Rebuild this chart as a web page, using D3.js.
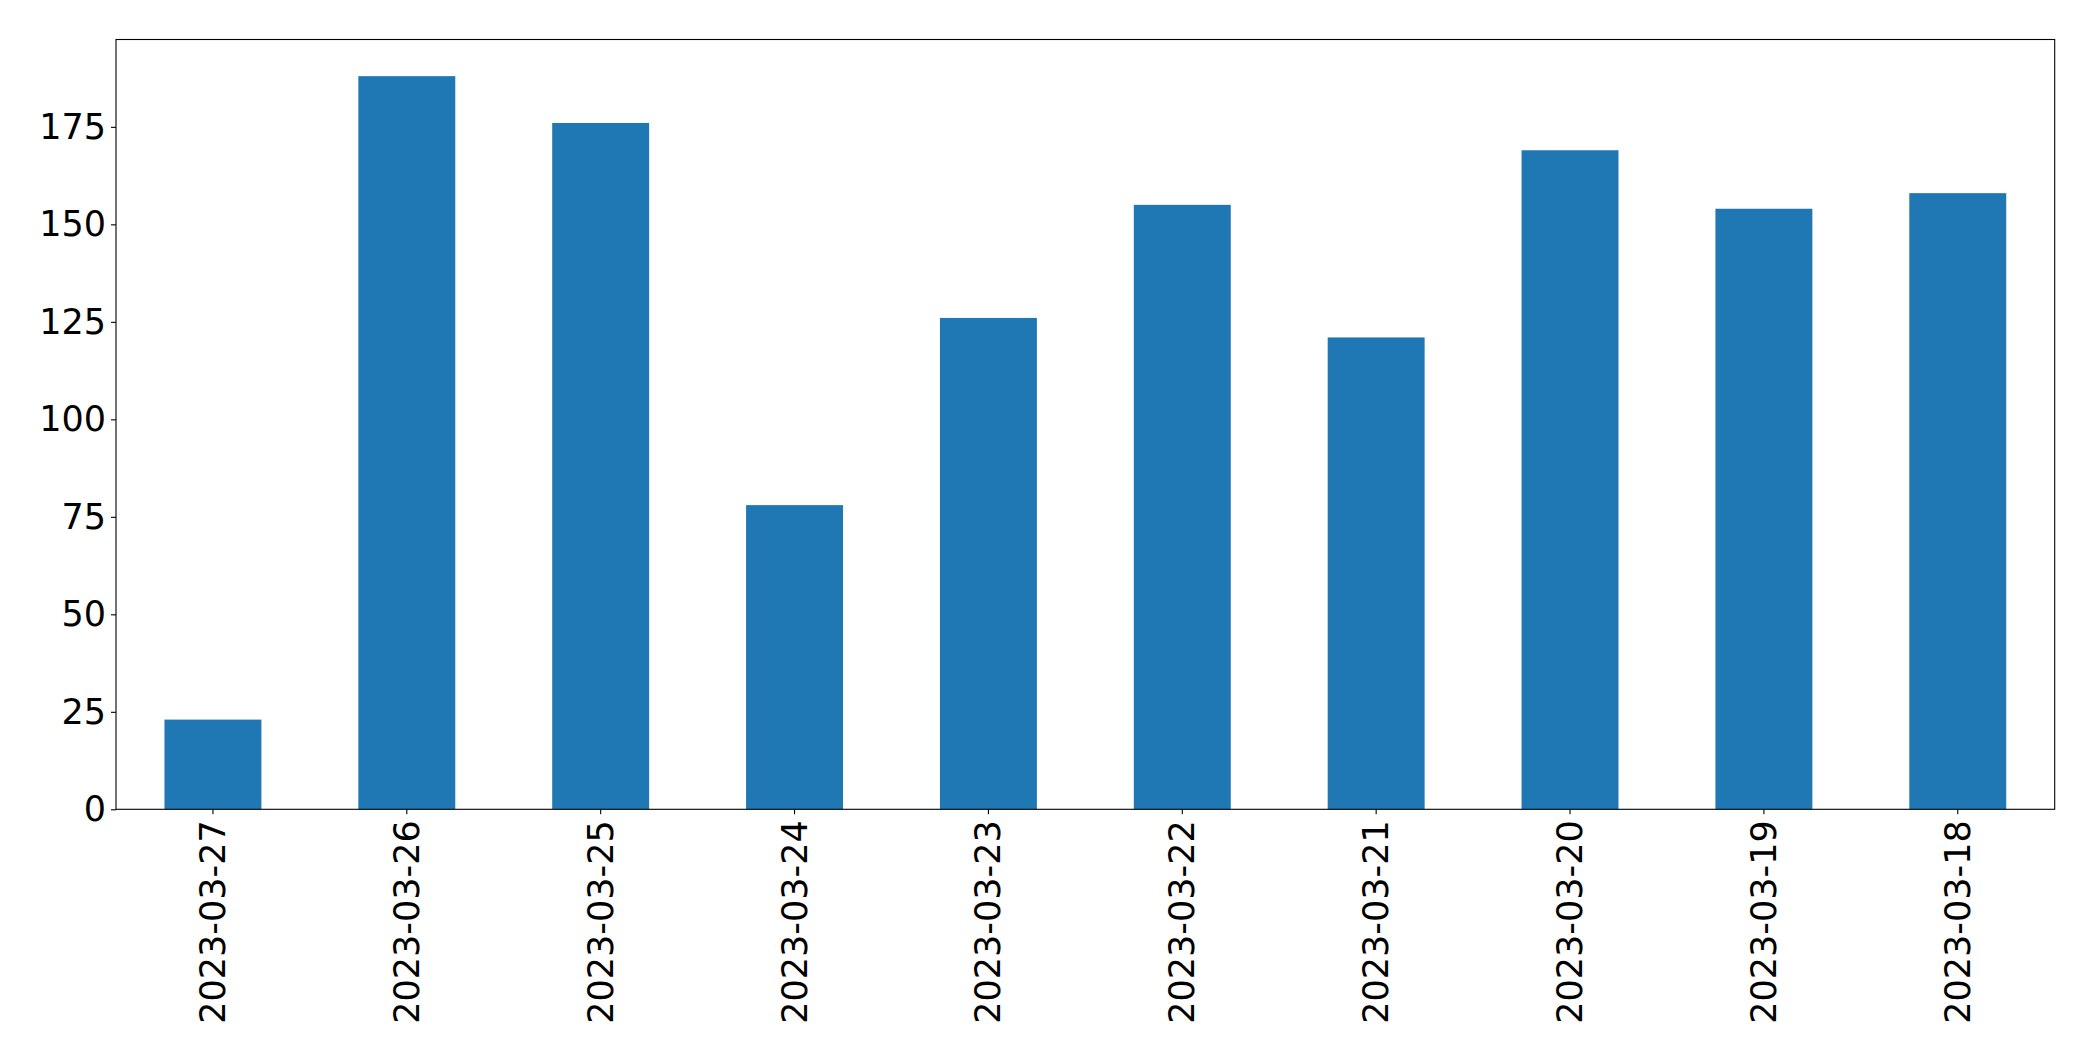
<!DOCTYPE html>
<html><head><meta charset="utf-8">
<script src="https://cdn.jsdelivr.net/npm/d3@7"></script>
<style>html,body{margin:0;padding:0;background:#fff;}svg{display:block;}</style>
</head><body>
<svg id="chart" width="2093" height="1061"></svg>
<script>
const categories = ["2023-03-27","2023-03-26","2023-03-25","2023-03-24","2023-03-23","2023-03-22","2023-03-21","2023-03-20","2023-03-19","2023-03-18"];
const values = [23, 188, 176, 78, 126, 155, 121, 169, 154, 158];
const yTicks = [0, 25, 50, 75, 100, 125, 150, 175];

const svg = d3.select("#chart");
const m = {left: 116, top: 39.5, right: 2054.7, bottom: 809.3};
const font = "DejaVu Sans, sans-serif";
const fs = 35;

const x = d3.scaleBand().domain(categories).range([m.left, m.right]).paddingInner(0.5).paddingOuter(0.25);
const yMax = d3.max(values) * 1.05;
const y = d3.scaleLinear().domain([0, yMax]).range([m.bottom, m.top]);

svg.append("g").selectAll("rect").data(values).join("rect")
  .attr("x", (d,i) => x(categories[i]))
  .attr("width", x.bandwidth())
  .attr("y", d => y(d))
  .attr("height", d => y(0) - y(d))
  .attr("fill", "#1f77b4");

const yAxis = svg.append("g").attr("transform", `translate(${m.left},0)`)
  .call(d3.axisLeft(y).tickValues(yTicks).tickSize(5).tickPadding(5).tickFormat(d3.format("d")));
yAxis.select(".domain").remove();
yAxis.selectAll("line").attr("stroke", "#000").attr("stroke-width", 1.1);
yAxis.selectAll("text").attr("font-family", font).attr("font-size", fs).attr("fill", "#000");

const xAxis = svg.append("g").attr("transform", `translate(0,${m.bottom})`)
  .call(d3.axisBottom(x).tickSize(5).tickPadding(5));
xAxis.select(".domain").remove();
xAxis.selectAll("line").attr("stroke", "#000").attr("stroke-width", 1.1);
xAxis.selectAll("text")
  .attr("font-family", font).attr("font-size", fs).attr("fill", "#000")
  .attr("text-anchor", "end")
  .attr("dy", null).attr("y", null)
  .attr("transform", "translate(0,11) rotate(-90)")
  .attr("dominant-baseline", "central");

svg.append("rect")
  .attr("x", m.left).attr("y", m.top)
  .attr("width", m.right - m.left).attr("height", m.bottom - m.top)
  .attr("fill", "none").attr("stroke", "#000").attr("stroke-width", 1.1);
</script>
</body></html>
